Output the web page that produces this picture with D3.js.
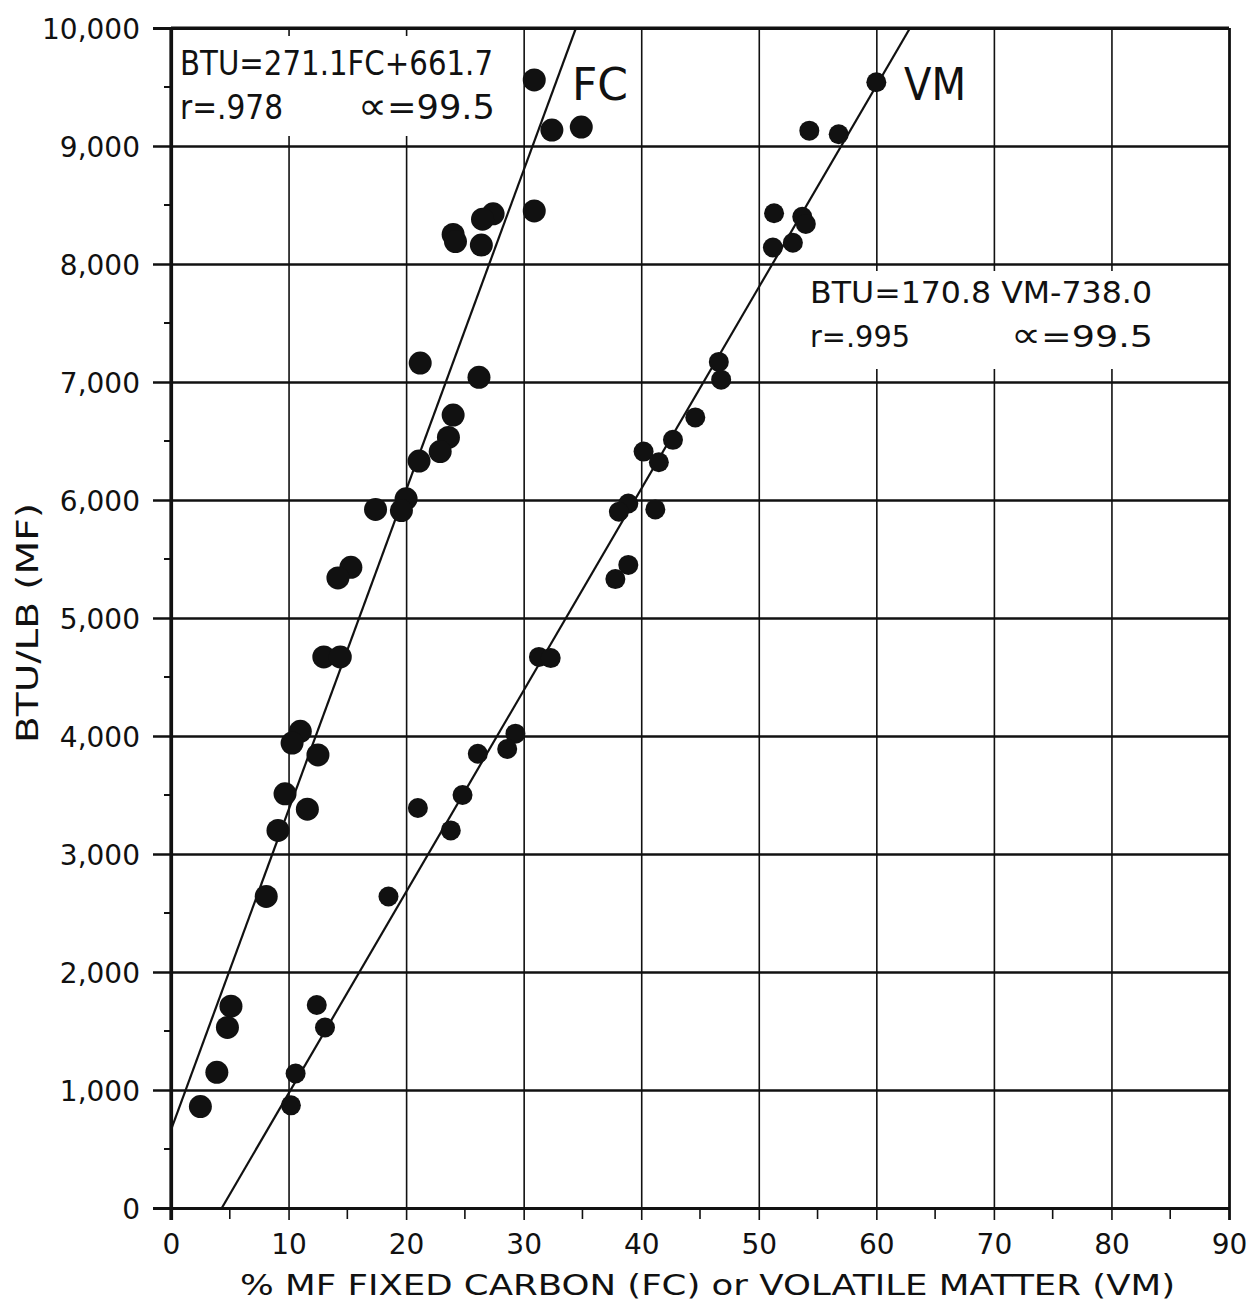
<!DOCTYPE html>
<html>
<head>
<meta charset="utf-8">
<script src="https://cdn.jsdelivr.net/npm/d3@7/dist/d3.min.js"></script>
<style>
  html, body { margin: 0; padding: 0; background: #ffffff; }
  svg { display: block; }
  text { font-family: "DejaVu Sans", sans-serif; fill: #111; }
</style>
</head>
<body>
<svg id="chart" width="1257" height="1304"></svg>
<script>
// ---------------- data ----------------
const xTicks = [0, 10, 20, 30, 40, 50, 60, 70, 80, 90];
const xMinorTicks = [5, 15, 25, 35, 45, 55, 65, 75, 85];
const yTicks = [0, 1000, 2000, 3000, 4000, 5000, 6000, 7000, 8000, 9000, 10000];
const yMinorTicks = [500, 1500, 2500, 3500, 4500, 5500, 6500, 7500, 8500, 9500];

// Fixed carbon (FC) points: % MF fixed carbon vs BTU/LB
const fcPct = [30.9, 32.4, 34.9, 30.9, 27.4, 26.5, 24.0, 24.2, 26.4, 21.2, 26.2,
               24.0, 23.6, 22.9, 21.1, 17.4, 20.0, 19.6, 15.3, 14.2, 13.0, 14.4,
               11.0, 10.3, 12.5, 9.7, 11.6, 9.1, 8.1, 5.1, 4.8, 3.9, 2.5];
const fcBtu = [9560, 9135, 9160, 8450, 8425, 8380, 8250, 8190, 8160, 7160, 7040,
               6720, 6530, 6410, 6330, 5920, 6010, 5910, 5430, 5340, 4670, 4670,
               4040, 3940, 3840, 3510, 3380, 3200, 2640, 1710, 1530, 1150, 860];

// Volatile matter (VM) points
const vmPct = [60.0, 54.3, 56.8, 51.3, 53.7, 54.0, 52.9, 51.2, 46.6, 46.8, 44.6,
               42.7, 40.2, 41.5, 38.9, 38.1, 41.2, 38.9, 37.8, 31.3, 32.3, 29.3,
               28.6, 26.1, 24.8, 21.0, 23.8, 18.5, 12.4, 13.1, 10.6, 10.2];
const vmBtu = [9540, 9130, 9100, 8430, 8400, 8340, 8180, 8140, 7170, 7020, 6700,
               6510, 6410, 6320, 5970, 5900, 5920, 5450, 5330, 4670, 4660, 4020,
               3890, 3850, 3500, 3390, 3200, 2640, 1720, 1530, 1140, 870];

// Regression lines: BTU = slope * pct + intercept
const fcFit = { slope: 271.1, intercept: 661.7 };
const vmFit = { slope: 170.8, intercept: -738.0 };

// ---------------- layout ----------------
const L = 171, R = 1229, T = 28, B = 1208;
const svg = d3.select("#chart");
const x = d3.scaleLinear().domain([0, 90]).range([L, R]);
const y = d3.scaleLinear().domain([0, 10000]).range([B, T]);

// horizontal gridlines + y labels
const yAxis = svg.append("g")
  .attr("transform", `translate(${L},0)`)
  .call(d3.axisLeft(y).tickValues(yTicks).tickSize(-(R - L)).tickPadding(31)
        .tickFormat(d3.format(",")));
yAxis.select(".domain").remove();
yAxis.selectAll(".tick line")
  .attr("x1", -18).attr("x2", R - L)
  .attr("stroke", "#111")
  .attr("stroke-width", d => (d === 0 || d === 10000) ? 3.2 : 2.6);
yAxis.selectAll(".tick text")
  .attr("font-size", 28).attr("font-family", "DejaVu Sans").attr("fill", "#111")
  .attr("dy", "0.36em");

// y minor ticks
svg.append("g").selectAll("line").data(yMinorTicks).join("line")
  .attr("x1", L - 7).attr("x2", L).attr("y1", d => y(d)).attr("y2", d => y(d))
  .attr("stroke", "#111").attr("stroke-width", 2);

// vertical gridlines + x labels
const xAxis = svg.append("g")
  .attr("transform", `translate(0,${B})`)
  .call(d3.axisBottom(x).tickValues(xTicks).tickSize(-(B - T)).tickPadding(0));
xAxis.select(".domain").remove();
xAxis.selectAll(".tick line")
  .attr("y1", 12).attr("y2", -(B - T))
  .attr("stroke", "#111")
  .attr("stroke-width", d => (d === 0) ? 3.2 : (d === 90 ? 2.8 : 1.6));
xAxis.selectAll(".tick text")
  .attr("font-size", 28).attr("font-family", "DejaVu Sans").attr("fill", "#111")
  .attr("y", 46).attr("dy", 0);

// x minor ticks
svg.append("g").selectAll("line").data(xMinorTicks).join("line")
  .attr("x1", d => x(d)).attr("x2", d => x(d)).attr("y1", B).attr("y2", B + 11)
  .attr("stroke", "#111").attr("stroke-width", 1.6);

// white boxes behind annotations
svg.append("rect").attr("x", 176).attr("y", 36).attr("width", 336).attr("height", 100)
  .attr("fill", "#fff");
svg.append("rect").attr("x", 800).attr("y", 271).attr("width", 366).attr("height", 98)
  .attr("fill", "#fff");

// redraw frame on top
svg.append("line").attr("x1", L).attr("x2", R).attr("y1", T).attr("y2", T)
  .attr("stroke", "#111").attr("stroke-width", 3.2);
svg.append("line").attr("x1", L).attr("x2", L).attr("y1", T).attr("y2", B + 12)
  .attr("stroke", "#111").attr("stroke-width", 3.2);

// regression lines (clipped to plot area)
svg.append("clipPath").attr("id", "plotclip").append("rect")
  .attr("x", L).attr("y", T).attr("width", R - L).attr("height", B - T);
const fitG = svg.append("g").attr("clip-path", "url(#plotclip)");
function fitSegment(f) {
  const x0 = Math.max(0, (0 - f.intercept) / f.slope);
  const x1 = Math.min(90, (10000 - f.intercept) / f.slope);
  return [[x0, f.slope * x0 + f.intercept], [x1, f.slope * x1 + f.intercept]];
}
const lineGen = d3.line().x(d => x(d[0])).y(d => y(d[1]));
[fcFit, vmFit].forEach(f => {
  fitG.append("path").attr("d", lineGen(fitSegment(f)))
    .attr("fill", "none").attr("stroke", "#111").attr("stroke-width", 2.2);
});

// points
svg.append("g").selectAll("circle").data(fcPct.map((p, i) => [p, fcBtu[i]])).join("circle")
  .attr("cx", d => x(d[0])).attr("cy", d => y(d[1])).attr("r", 11.5).attr("fill", "#111");
svg.append("g").selectAll("circle").data(vmPct.map((p, i) => [p, vmBtu[i]])).join("circle")
  .attr("cx", d => x(d[0])).attr("cy", d => y(d[1])).attr("r", 10).attr("fill", "#111");

// annotations
function txt(s, px, py, size, len, anchor) {
  const t = svg.append("text").attr("x", px).attr("y", py).attr("font-size", size)
    .attr("text-anchor", anchor || "start").text(s);
  if (len) t.attr("textLength", len).attr("lengthAdjust", "spacingAndGlyphs");
  return t;
}
function alphaTxt(px, py, size, len) {
  const t = svg.append("text").attr("x", px).attr("y", py).attr("font-size", size)
    .attr("textLength", len).attr("lengthAdjust", "spacingAndGlyphs");
  t.append("tspan").attr("font-size", size * 1.15).text("\u221D");
  t.append("tspan").text("=99.5");
  return t;
}
txt("BTU=271.1FC+661.7", 180, 75, 33, 313);
txt("r=.978", 180, 119, 33, 103);
alphaTxt(358, 119, 33, 137);
txt("FC", 572, 100, 44, 56);
txt("VM", 904, 100, 44, 62);
txt("BTU=170.8 VM-738.0", 810, 303, 31, 342);
txt("r=.995", 810, 347, 31, 100);
alphaTxt(1011, 347, 31, 142);

// axis titles
txt("% MF FIXED CARBON (FC) or VOLATILE MATTER (VM)", 240, 1295, 29, 935);
svg.append("text")
  .attr("transform", "translate(38,743) rotate(-90)")
  .attr("font-size", 31).attr("textLength", 240).attr("lengthAdjust", "spacingAndGlyphs")
  .text("BTU/LB (MF)");
</script>
</body>
</html>
